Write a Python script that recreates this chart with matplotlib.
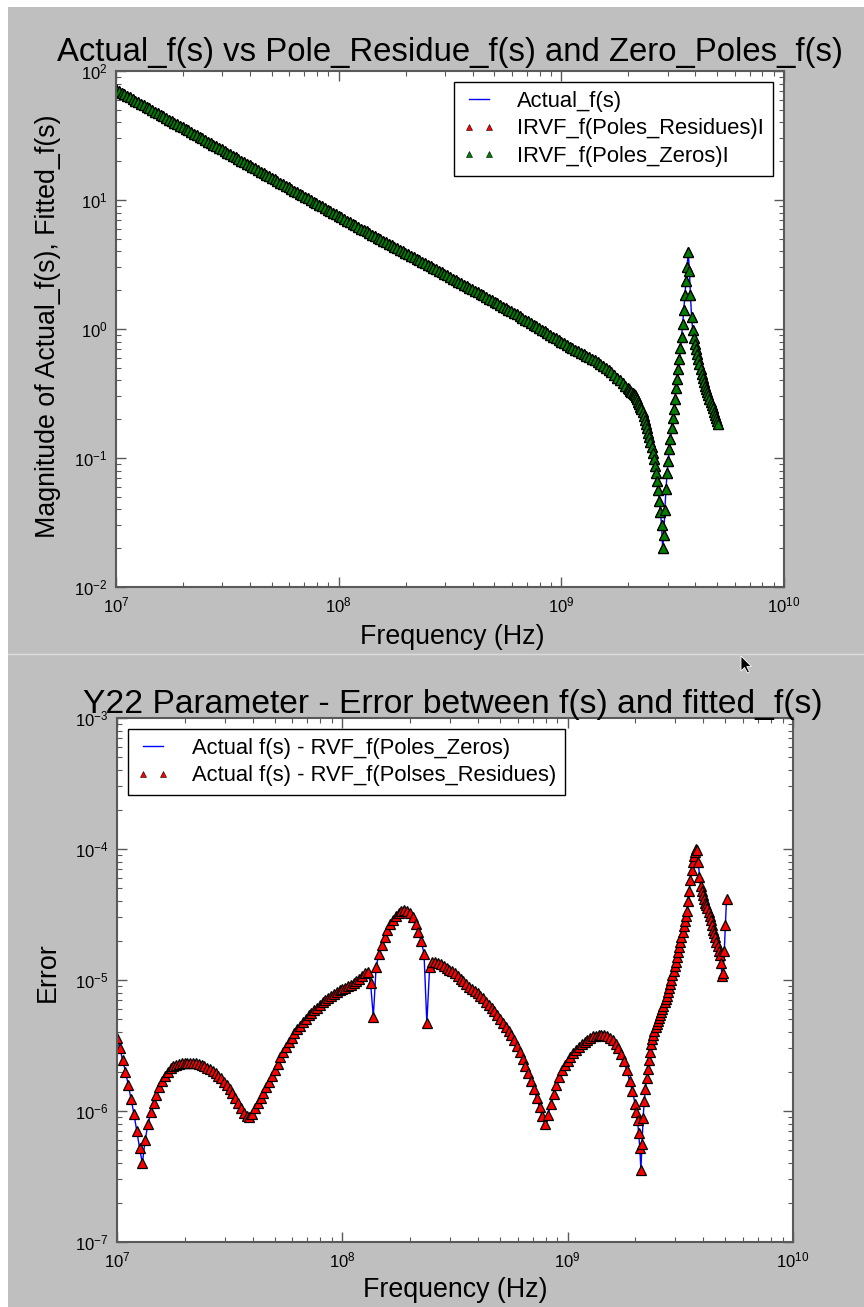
import matplotlib
matplotlib.use("Agg")
import matplotlib.pyplot as plt
from matplotlib.patches import Rectangle, Polygon
from matplotlib.lines import Line2D

plt.rcParams['font.family'] = ['Liberation Sans', 'DejaVu Sans']
plt.rcParams['mathtext.fontset'] = 'custom'
plt.rcParams['mathtext.rm'] = 'Liberation Sans'
plt.rcParams['mathtext.default'] = 'regular'

# === Sweep points, log10(Hz) ===
freq_exp = [
    7.0000, 7.0125, 7.0250, 7.0375, 7.0500, 7.0625, 7.0750, 7.0875,
    7.1000, 7.1125, 7.1250, 7.1375, 7.1500, 7.1625, 7.1750, 7.1875,
    7.2000, 7.2125, 7.2250, 7.2375, 7.2500, 7.2625, 7.2750, 7.2875,
    7.3000, 7.3125, 7.3250, 7.3375, 7.3500, 7.3625, 7.3750, 7.3875,
    7.4000, 7.4125, 7.4250, 7.4375, 7.4500, 7.4625, 7.4750, 7.4875,
    7.5000, 7.5125, 7.5250, 7.5375, 7.5500, 7.5625, 7.5750, 7.5875,
    7.6000, 7.6125, 7.6250, 7.6375, 7.6500, 7.6625, 7.6750, 7.6875,
    7.7000, 7.7125, 7.7250, 7.7375, 7.7500, 7.7625, 7.7750, 7.7875,
    7.8000, 7.8125, 7.8250, 7.8375, 7.8500, 7.8625, 7.8750, 7.8875,
    7.9000, 7.9125, 7.9250, 7.9375, 7.9500, 7.9625, 7.9750, 7.9875,
    8.0000, 8.0125, 8.0250, 8.0375, 8.0500, 8.0625, 8.0750, 8.0875,
    8.1000, 8.1125, 8.1250, 8.1375, 8.1500, 8.1625, 8.1750, 8.1875,
    8.2000, 8.2125, 8.2250, 8.2375, 8.2500, 8.2625, 8.2750, 8.2875,
    8.3000, 8.3125, 8.3250, 8.3375, 8.3500, 8.3625, 8.3750, 8.3875,
    8.4000, 8.4125, 8.4250, 8.4375, 8.4500, 8.4625, 8.4750, 8.4875,
    8.5000, 8.5125, 8.5250, 8.5375, 8.5500, 8.5625, 8.5750, 8.5875,
    8.6000, 8.6125, 8.6250, 8.6375, 8.6500, 8.6625, 8.6750, 8.6875,
    8.7000, 8.7125, 8.7250, 8.7375, 8.7500, 8.7625, 8.7750, 8.7875,
    8.8000, 8.8125, 8.8250, 8.8375, 8.8500, 8.8625, 8.8750, 8.8875,
    8.9000, 8.9125, 8.9250, 8.9375, 8.9500, 8.9625, 8.9750, 8.9875,
    9.0000, 9.0125, 9.0250, 9.0375, 9.0500, 9.0625, 9.0750, 9.0875,
    9.1000, 9.1125, 9.1250, 9.1375, 9.1500, 9.1625, 9.1750, 9.1875,
    9.2000, 9.2125, 9.2250, 9.2375, 9.2500, 9.2625, 9.2750, 9.2875,
    9.3000,
    9.305, 9.310, 9.315, 9.320, 9.325, 9.330, 9.335, 9.340, 9.345, 9.350,
    9.355, 9.360, 9.365, 9.370, 9.375, 9.380, 9.385, 9.390, 9.395, 9.400,
    9.405, 9.410, 9.415, 9.420, 9.425, 9.430, 9.435, 9.440, 9.445, 9.450,
    9.455, 9.460, 9.465, 9.470, 9.475, 9.480, 9.485, 9.490, 9.495, 9.500,
    9.505, 9.510, 9.515, 9.520, 9.525, 9.530, 9.535, 9.540, 9.545, 9.550,
    9.555, 9.560, 9.565, 9.570, 9.575, 9.580, 9.585, 9.590, 9.595, 9.600,
    9.605, 9.610, 9.615, 9.620, 9.625, 9.630, 9.635, 9.640, 9.645, 9.650,
    9.655, 9.660, 9.665, 9.670, 9.675, 9.680, 9.685, 9.690, 9.695, 9.700,
    9.705,
]

# log10 |Actual f(s)|
mag_log = [
    1.857, 1.845, 1.832, 1.820, 1.808, 1.796, 1.784, 1.771,
    1.759, 1.747, 1.735, 1.722, 1.710, 1.698, 1.686, 1.673,
    1.661, 1.649, 1.637, 1.624, 1.612, 1.600, 1.588, 1.575,
    1.563, 1.551, 1.539, 1.526, 1.514, 1.502, 1.490, 1.477,
    1.465, 1.453, 1.441, 1.428, 1.416, 1.404, 1.392, 1.379,
    1.367, 1.355, 1.343, 1.330, 1.318, 1.306, 1.294, 1.281,
    1.269, 1.257, 1.245, 1.232, 1.220, 1.208, 1.196, 1.183,
    1.171, 1.159, 1.147, 1.134, 1.122, 1.110, 1.098, 1.085,
    1.073, 1.061, 1.049, 1.036, 1.024, 1.012, 1.000, 0.987,
    0.975, 0.963, 0.951, 0.938, 0.926, 0.914, 0.902, 0.889,
    0.877, 0.865, 0.853, 0.840, 0.828, 0.816, 0.804, 0.791,
    0.779, 0.767, 0.756, 0.744, 0.732, 0.720, 0.709, 0.697,
    0.685, 0.673, 0.662, 0.650, 0.638, 0.626, 0.615, 0.603,
    0.591, 0.579, 0.568, 0.556, 0.544, 0.532, 0.521, 0.509,
    0.497, 0.485, 0.474, 0.462, 0.450, 0.438, 0.427, 0.415,
    0.403, 0.391, 0.380, 0.368, 0.356, 0.344, 0.333, 0.321,
    0.309, 0.297, 0.285, 0.272, 0.260, 0.248, 0.236, 0.223,
    0.211, 0.199, 0.187, 0.174, 0.162, 0.150, 0.138, 0.125,
    0.113, 0.100, 0.087, 0.073, 0.060, 0.047, 0.034, 0.020,
    0.007, -0.006, -0.019, -0.033, -0.046, -0.059, -0.072, -0.086,
    -0.099, -0.111, -0.124, -0.136, -0.148, -0.160, -0.172, -0.184,
    -0.196, -0.208, -0.220, -0.232, -0.244, -0.256, -0.268, -0.283,
    -0.299, -0.316, -0.335, -0.355, -0.376, -0.397, -0.418, -0.439,
    -0.460,
    -0.468, -0.477, -0.485, -0.493, -0.502, -0.515, -0.530, -0.546, -0.563, -0.581,
    -0.601, -0.623, -0.647, -0.675, -0.705, -0.737, -0.770, -0.804, -0.840, -0.877,
    -0.915, -0.960, -1.010, -1.065, -1.120, -1.180, -1.250, -1.330, -1.420, -1.520,
    -1.700, -1.600, -1.400, -1.240, -1.120, -1.020, -0.930, -0.850, -0.770, -0.690,
    -0.620, -0.540, -0.460, -0.390, -0.310, -0.230, -0.150, -0.060, 0.040, 0.150,
    0.260, 0.370, 0.480, 0.600, 0.450, 0.260, 0.090, -0.010, -0.070, -0.120,
    -0.155, -0.190, -0.230, -0.270, -0.310, -0.345, -0.380, -0.410, -0.440, -0.465,
    -0.490, -0.515, -0.540, -0.565, -0.590, -0.615, -0.640, -0.665, -0.690, -0.715,
    -0.740,
]

# log10 |Actual f(s) - RVF fit|; pole/zero and pole/residue forms agree to plot precision
err_log = [
    -5.44, -5.52, -5.61, -5.70, -5.80, -5.91, -6.02, -6.15,
    -6.28, -6.40, -6.22, -6.10, -6.01, -5.94, -5.88, -5.82,
    -5.77, -5.73, -5.70, -5.675, -5.66, -5.65, -5.64, -5.635,
    -5.632, -5.630, -5.630, -5.631, -5.634, -5.640, -5.648, -5.658,
    -5.670, -5.680, -5.695, -5.710, -5.730, -5.750, -5.775, -5.800,
    -5.830, -5.865, -5.900, -5.940, -5.980, -6.015, -6.040, -6.045,
    -6.020, -5.980, -5.940, -5.900, -5.860, -5.820, -5.775, -5.730,
    -5.685, -5.640, -5.590, -5.550, -5.510, -5.475, -5.440, -5.405,
    -5.375, -5.350, -5.320, -5.295, -5.270, -5.250, -5.230, -5.210,
    -5.190, -5.170, -5.155, -5.140, -5.125, -5.110, -5.095, -5.080,
    -5.070, -5.060, -5.045, -5.035, -5.020, -5.005, -4.990, -4.970,
    -4.950, -4.940, -5.020, -5.280, -4.900, -4.800, -4.730, -4.670,
    -4.620, -4.575, -4.540, -4.510, -4.490, -4.475, -4.468, -4.470,
    -4.485, -4.520, -4.570, -4.630, -4.700, -4.800, -5.330, -4.900,
    -4.860, -4.865, -4.870, -4.880, -4.890, -4.905, -4.920, -4.935,
    -4.950, -4.970, -4.990, -5.010, -5.030, -5.050, -5.070, -5.085,
    -5.100, -5.120, -5.140, -5.165, -5.190, -5.215, -5.240, -5.270,
    -5.300, -5.330, -5.360, -5.390, -5.420, -5.460, -5.500, -5.550,
    -5.600, -5.655, -5.710, -5.770, -5.830, -5.900, -5.970, -6.040,
    -6.100, -6.030, -5.950, -5.870, -5.800, -5.740, -5.690, -5.650,
    -5.620, -5.590, -5.560, -5.535, -5.510, -5.490, -5.470, -5.455,
    -5.440, -5.430, -5.425, -5.420, -5.420, -5.423, -5.430, -5.445,
    -5.460, -5.485, -5.520, -5.565, -5.620, -5.690, -5.770, -5.850,
    -5.950,
    -6.010, -6.070, -6.170, -6.280, -6.450, -6.250, -6.050, -5.920, -5.830, -5.750,
    -5.680, -5.610, -5.550, -5.490, -5.450, -5.420, -5.390, -5.360, -5.335, -5.310,
    -5.290, -5.270, -5.245, -5.220, -5.195, -5.170, -5.145, -5.120, -5.090, -5.060,
    -5.030, -5.000, -4.965, -4.930, -4.895, -4.860, -4.825, -4.790, -4.750, -4.710,
    -4.670, -4.630, -4.590, -4.550, -4.510, -4.470, -4.400, -4.320, -4.240, -4.160,
    -4.100, -4.050, -4.020, -4.000, -4.010, -4.100, -4.210, -4.280, -4.320, -4.350,
    -4.380, -4.410, -4.430, -4.450, -4.480, -4.510, -4.545, -4.580, -4.615, -4.645,
    -4.675, -4.710, -4.740, -4.775, -4.810, -4.870, -4.970, -4.950, -4.780, -4.580,
    -4.380,
]

assert len(freq_exp) == len(mag_log) == len(err_log)

freq_hz = [10 ** e for e in freq_exp]
mag_actual = [10 ** v for v in mag_log]
err_poles_zeros = [10 ** v for v in err_log]
err_poles_residues = list(err_poles_zeros)
mag_fit_residues = [a + e for a, e in zip(mag_actual, err_poles_residues)]
mag_fit_zeros = [a + e for a, e in zip(mag_actual, err_poles_zeros)]

# === Figure ===
W, H = 864, 1307
fig = plt.figure(figsize=(W / 100, H / 100), dpi=100, facecolor='white')

def fx(x):
    return x / W

def fy(y):
    return 1 - y / H

fig.patches.append(Rectangle((fx(8), 0), 1 - fx(8), fy(7), transform=fig.transFigure,
                             facecolor='#bfbfbf', edgecolor='none', zorder=-5))
fig.lines.append(Line2D([fx(8), 1], [fy(654), fy(654)], transform=fig.transFigure,
                        color='#dcdcdc', lw=1))
cursor = [(741, 656), (741, 671), (744.5, 667.5), (747.5, 673), (749.5, 672),
          (746.8, 666.5), (751.5, 666.5)]
fig.patches.append(Polygon([(fx(x), fy(y)) for x, y in cursor], closed=True,
                           transform=fig.transFigure, facecolor='black',
                           edgecolor='white', lw=0.6, zorder=5))

ax1 = fig.add_axes([fx(116), fy(587), 668 / W, 516 / H])
ax2 = fig.add_axes([fx(117), fy(1242), 676 / W, 524 / H])

mk = dict(ls='none', marker='^', ms=6.5, mec='k', mew=0.9)

ax1.plot(freq_hz, mag_actual, color='b', lw=1, label='Actual_f(s)')
ax1.plot(freq_hz, mag_fit_residues, color='r', label='IRVF_f(Poles_Residues)I', **mk)
ax1.plot(freq_hz, mag_fit_zeros, color='g', label='IRVF_f(Poles_Zeros)I', **mk)
ax1.set_ylim(1e-2, 1e2)

ax2.plot(freq_hz, err_poles_zeros, color='b', lw=1, label='Actual f(s) - RVF_f(Poles_Zeros)')
ax2.plot(freq_hz, err_poles_residues, color='r',
         label='Actual f(s) - RVF_f(Polses_Residues)', **mk)
ax2.set_ylim(1e-7, 1e-3)

for ax in (ax1, ax2):
    ax.set_xscale('log')
    ax.set_yscale('log')
    ax.set_xlim(1e7, 1e10)
    ax.set_facecolor('white')
    ax.tick_params(which='both', direction='in', top=True, right=True,
                   color='0.35', labelsize=12, pad=6)
    ax.tick_params(which='major', length=7, width=1)
    ax.tick_params(which='minor', length=3.5, width=0.8)
    for s in ax.spines.values():
        s.set_color('0.35')
        s.set_linewidth(1.5)

leg_kw = dict(numpoints=2, fontsize=15.8, fancybox=False, framealpha=1, edgecolor='k',
              borderaxespad=0.5, borderpad=0.4, handlelength=1.5, handletextpad=1.0,
              labelspacing=0.3, markerscale=0.75)
leg1 = ax1.legend(loc='upper right', **leg_kw)
leg2 = ax2.legend(loc='upper left', **leg_kw)
for lg in (leg1, leg2):
    lg.get_frame().set_linewidth(1.0)
    for h in lg.legend_handles:
        h.set_markeredgewidth(0.4)

# === Titles and axis labels ===
fig.text(fx(450), fy(52), 'Actual_f(s) vs Pole_Residue_f(s) and Zero_Poles_f(s)',
         ha='center', va='center', fontsize=23.7)
fig.text(fx(453), fy(704), 'Y22 Parameter - Error between f(s) and fitted_f(s)',
         ha='center', va='center', fontsize=24.2)
fig.text(fx(452), fy(637), 'Frequency (Hz)', ha='center', va='center', fontsize=19.3)
fig.text(fx(455), fy(1290), 'Frequency (Hz)', ha='center', va='center', fontsize=19.3)
fig.text(fx(48), fy(326), 'Magnitude of Actual_f(s), Fitted_f(s)', ha='center',
         va='center', rotation=90, fontsize=19.3)
fig.text(fx(48), fy(972), 'Error', ha='center', va='center', rotation=90, fontsize=19.3)

fig.savefig('out.png', dpi=100, facecolor=fig.get_facecolor())
